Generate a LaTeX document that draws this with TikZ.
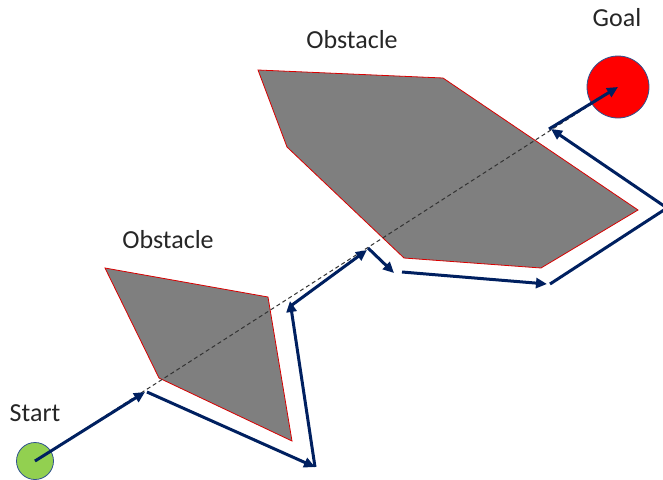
\documentclass[tikz,border=0pt]{standalone}
\usepackage{fontspec}
\setmainfont{Carlito}
\usetikzlibrary{arrows.meta}
\definecolor{pathblue}{HTML}{002060}
\definecolor{rimblue}{HTML}{2F528F}
\definecolor{startgreen}{HTML}{92D050}
\definecolor{obstgray}{HTML}{7F7F7F}
\definecolor{labelgray}{HTML}{262626}
\tikzset{
  obstacle/.style={fill=obstgray, draw=red!85!black, line width=0.8pt, line join=miter},
  endpoint/.style={circle, draw=rimblue, line width=0.8pt, inner sep=0pt},
  label text/.style={text=labelgray, font=\fontsize{26}{30}\selectfont},
  route/.style={draw=pathblue, line width=3pt, -{Triangle[length=11pt,width=10pt]}},
  sightline/.style={draw=black!80, line width=1pt, dash pattern=on 4pt off 3pt}
}
\begin{document}
\begin{tikzpicture}[x=1pt,y=-1pt]
  \useasboundingbox (0,0) rectangle (663,479);
  \clip (0,0) rectangle (663,479);

  % obstacles
  \draw[obstacle] (105,268) -- (268,297) -- (292,441) -- (159,378) -- cycle;
  \draw[obstacle] (258,70) -- (443,78) -- (638,210) -- (541,268) -- (404,258) -- (287,147) -- cycle;

  % start and goal
  \node[endpoint, fill=startgreen, minimum size=37pt] (start) at (35,461) {};
  \node[endpoint, fill=red, minimum size=62pt] (goal) at (618,87) {};

  % straight line of sight from start to goal
  \draw[sightline] (start.center) -- (goal.center);

  % waypoints of the bug route
  \coordinate (hit1) at (145,392);
  \coordinate (c1) at (315,467);
  \coordinate (leave1) at (290,301);
  \coordinate (hit2) at (367,250);
  \coordinate (c2) at (394,273);
  \coordinate (c3a) at (398,272);
  \coordinate (c3) at (547,284);
  \coordinate (c4) at (667,208);
  \coordinate (leave2) at (551,129);

  % route segments
  \draw[route] (start.center) -- (hit1);
  \draw[route] ([xshift=2pt]hit1) -- (c1);
  \draw[route] (c1) -- (leave1);
  \draw[route] ([xshift=2pt,yshift=-4pt]leave1) -- (hit2);
  \draw[route] ([xshift=1pt,yshift=2pt]hit2) -- (c2);
  \draw[route] ([xshift=4pt]c3a) -- (c3);
  \draw[draw=pathblue, line width=3pt] ([xshift=3pt]c3) -- (c4);
  \draw[route] (c4) -- (leave2);
  \draw[route] ([xshift=-2pt]leave2) -- (goal.center);

  % labels
  \node[label text] (lstart) at (35,413) {Start};
  \node[label text] (lobst1) at (168,240) {Obstacle};
  \node[label text] (lobst2) at (352,40) {Obstacle};
  \node[label text] (lgoal) at (617,18) {Goal};
\end{tikzpicture}
\end{document}
